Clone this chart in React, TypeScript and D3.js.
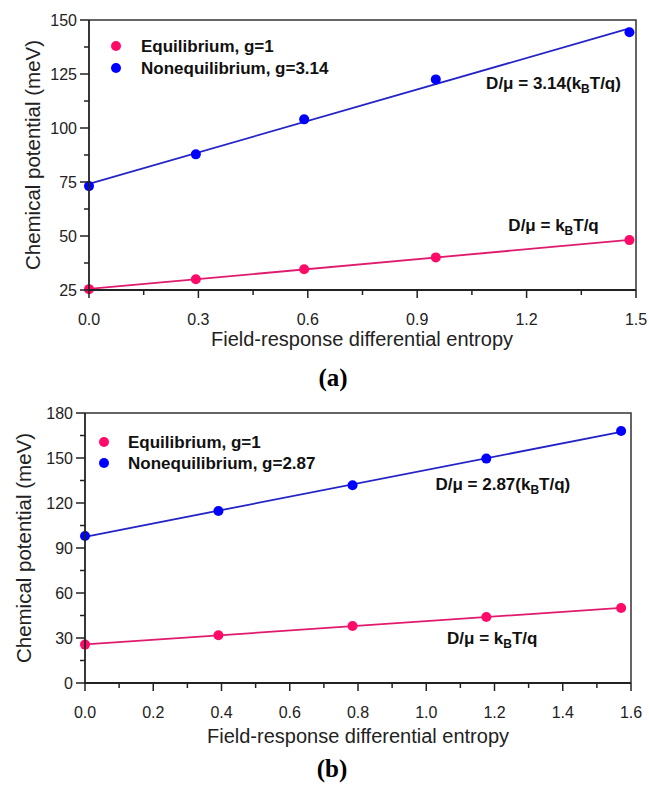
import * as d3 from "d3";

const SANS = "'Liberation Sans', Arial, sans-serif";
const SERIF = "'Liberation Serif', 'Times New Roman', serif";
const PINK = "#ff0a68";
const PINK_LINE = "#e01a6c";
const BLUE = "#0000ff";
const BLUE_LINE = "#2323c8";

// panel (a)
const aX = [0, 0.293, 0.59, 0.951, 1.482];
const aEq = [25.4, 30.0, 34.6, 40.1, 48.1];
const aNeq = [73.1, 87.8, 104.0, 122.5, 144.3];
const aXTicks = [0, 0.3, 0.6, 0.9, 1.2, 1.5];
const aXLabels = ["0.0", "0.3", "0.6", "0.9", "1.2", "1.5"];
const aYTicks = [25, 50, 75, 100, 125, 150];
const aYLabels = ["25", "50", "75", "100", "125", "150"];

// panel (b)
const bX = [0, 0.391, 0.784, 1.176, 1.571];
const bEq = [25.6, 31.8, 38.0, 44.0, 50.0];
const bNeq = [98.0, 114.7, 131.8, 149.6, 168.0];
const bXTicks = [0, 0.2, 0.4, 0.6, 0.8, 1.0, 1.2, 1.4, 1.6];
const bXLabels = ["0.0", "0.2", "0.4", "0.6", "0.8", "1.0", "1.2", "1.4", "1.6"];
const bYTicks = [0, 30, 60, 90, 120, 150, 180];
const bYLabels = ["0", "30", "60", "90", "120", "150", "180"];

function fit(xs, ys) {
  const mx = d3.mean(xs), my = d3.mean(ys);
  const sxy = d3.sum(xs, (v, i) => (v - mx) * (ys[i] - my));
  const sxx = d3.sum(xs, v => (v - mx) * (v - mx));
  const k = sxy / sxx;
  return { k, b: my - k * mx };
}

function Panel({ cfg }) {
  const { x0, x1, y0, y1 } = cfg;
  const x = d3.scaleLinear().domain(cfg.xDomain).range([x0, x1]);
  const y = d3.scaleLinear().domain(cfg.yDomain).range([y1, y0]);
  const xMinor = cfg.xTicks.slice(1).map((t, i) => (t + cfg.xTicks[i]) / 2);
  const yMinor = cfg.yTicks.slice(1).map((t, i) => (t + cfg.yTicks[i]) / 2);
  const line = d3.line().x(d => x(d[0])).y(d => y(d[1]));
  const series = [
    { ys: cfg.eq, fill: PINK, stroke: PINK_LINE },
    { ys: cfg.neq, fill: BLUE, stroke: BLUE_LINE },
  ];
  const axisColor = "#222";
  const sub = (pre, post) => (
    <>
      {pre}
      <tspan dy={4} fontSize={12}>B</tspan>
      <tspan dy={-4}>{post}</tspan>
    </>
  );
  return (
    <g>
      {/* frame */}
      <path d={`M${x0},${y0}H${x1}V${y1}`} fill="none" stroke="#333" strokeWidth={1.5} />
      {/* fitted lines */}
      {series.map((s, i) => {
        const f = fit(cfg.xs, s.ys);
        const xmax = d3.max(cfg.xs);
        return (
          <path key={"l" + i} d={line([[0, f.b], [xmax, f.b + f.k * xmax]])}
            fill="none" stroke={s.stroke} strokeWidth={1.8} />
        );
      })}
      {series.map((s, i) =>
        s.ys.map((v, j) => (
          <circle key={`c${i}-${j}`} cx={x(cfg.xs[j])} cy={y(v)} r={5} fill={s.fill} />
        ))
      )}
      {/* axes */}
      <line x1={x0} x2={x1} y1={y1} y2={y1} stroke={axisColor} strokeWidth={1.8} />
      <line x1={x0} x2={x0} y1={y0} y2={y1} stroke={axisColor} strokeWidth={1.8} />
      {cfg.xTicks.map((t, i) => (
        <g key={"xt" + i}>
          <line x1={x(t)} x2={x(t)} y1={y1} y2={y1 + 8} stroke={axisColor} strokeWidth={1.5} />
          <text x={x(t)} y={cfg.xLabelY} textAnchor="middle" fontFamily={SANS} fontSize={16} fill="#222">
            {cfg.xLabels[i]}
          </text>
        </g>
      ))}
      {xMinor.map((t, i) => (
        <line key={"xm" + i} x1={x(t)} x2={x(t)} y1={y1} y2={y1 + 5} stroke={axisColor} strokeWidth={1.5} />
      ))}
      {cfg.yTicks.map((t, i) => (
        <g key={"yt" + i}>
          <line x1={x0 - 9} x2={x0} y1={y(t)} y2={y(t)} stroke={axisColor} strokeWidth={1.5} />
          <text x={x0 - 12} y={y(t) + 6} textAnchor="end" fontFamily={SANS} fontSize={16} fill="#222">
            {cfg.yLabels[i]}
          </text>
        </g>
      ))}
      {yMinor.map((t, i) => (
        <line key={"ym" + i} x1={x0 - 5} x2={x0} y1={y(t)} y2={y(t)} stroke={axisColor} strokeWidth={1.5} />
      ))}
      {/* axis titles */}
      <text x={cfg.xTitleX} y={cfg.xTitleY} textAnchor="middle" fontFamily={SANS} fontSize={20} fill="#222">
        Field-response differential entropy
      </text>
      <text transform={`translate(${cfg.yTitleX},${(y0 + y1) / 2}) rotate(-90)`} textAnchor="middle"
        fontFamily={SANS} fontSize={20.5} fill="#222">
        Chemical potential (meV)
      </text>
      {/* legend */}
      <circle cx={x0 + cfg.leg.dx} cy={y0 + cfg.leg.dy1} r={5} fill={PINK} />
      <circle cx={x0 + cfg.leg.dx} cy={y0 + cfg.leg.dy2} r={5} fill={BLUE} />
      <text x={x0 + cfg.leg.tx} y={y0 + cfg.leg.dy1 + 6} fontFamily={SANS} fontWeight="bold" fontSize={17} fill="#111">
        Equilibrium, g=1
      </text>
      <text x={x0 + cfg.leg.tx} y={y0 + cfg.leg.dy2 + 6} fontFamily={SANS} fontWeight="bold" fontSize={17} fill="#111">
        {`Nonequilibrium, g=${cfg.g}`}
      </text>
      {/* annotations */}
      <text x={x(cfg.annNeq[0])} y={y(cfg.annNeq[1])} fontFamily={SANS} fontWeight="bold" fontSize={17} fill="#111">
        {sub(`D/μ = ${cfg.g}(k`, "T/q)")}
      </text>
      <text x={x(cfg.annEq[0])} y={y(cfg.annEq[1])} fontFamily={SANS} fontWeight="bold" fontSize={17} fill="#111">
        {sub("D/μ = k", "T/q")}
      </text>
      <text x={cfg.tagX} y={cfg.tagY} textAnchor="middle" fontFamily={SERIF} fontWeight="bold" fontSize={25} fill="#000">
        {cfg.tag}
      </text>
    </g>
  );
}

const panelA = {
  x0: 89, x1: 636, y0: 20, y1: 290,
  xDomain: [0, 1.5], yDomain: [25, 150],
  xs: aX, eq: aEq, neq: aNeq, g: "3.14",
  xTicks: aXTicks, xLabels: aXLabels, yTicks: aYTicks, yLabels: aYLabels,
  xLabelY: 325, xTitleX: 362, xTitleY: 346, yTitleX: 40,
  leg: { dx: 27, dy1: 26, dy2: 48, tx: 52 },
  annNeq: [1.089, 118], annEq: [1.15, 52.5],
  tag: "(a)", tagX: 333, tagY: 386,
};

const panelB = {
  x0: 85, x1: 631, y0: 413, y1: 683,
  xDomain: [0, 1.6], yDomain: [0, 180],
  xs: bX, eq: bEq, neq: bNeq, g: "2.87",
  xTicks: bXTicks, xLabels: bXLabels, yTicks: bYTicks, yLabels: bYLabels,
  xLabelY: 718, xTitleX: 358, xTitleY: 743, yTitleX: 31,
  leg: { dx: 19, dy1: 29, dy2: 50, tx: 43 },
  annNeq: [1.027, 128.5], annEq: [1.061, 26.3],
  tag: "(b)", tagX: 332, tagY: 777,
};

export default function App() {
  return (
    <svg width={649} height={785} style={{ position: "absolute", left: 0, top: 0, background: "#fff" }}>
      <rect width={649} height={785} fill="#fff" />
      <Panel cfg={panelA} />
      <Panel cfg={panelB} />
    </svg>
  );
}
